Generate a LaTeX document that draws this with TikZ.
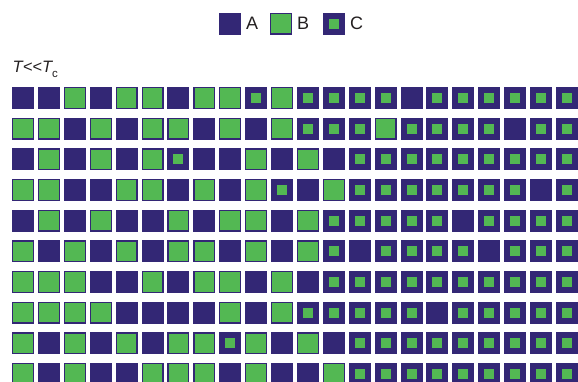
\documentclass[tikz,border=0pt]{standalone}
\usepackage{fontspec}
\setmainfont{Liberation Sans}
\newfontfamily\plainsans{Liberation Sans}
\definecolor{dark}{RGB}{51,39,117}
\definecolor{grn}{RGB}{83,184,83}
\definecolor{txt}{RGB}{35,31,32}
\tikzset{
  cellA/.style={fill=dark, draw=none, minimum size=22pt, inner sep=0pt, outer sep=0pt},
  cellB/.style={fill=grn, draw=dark, line width=1.2pt, minimum size=20.8pt, inner sep=0pt, outer sep=0pt},
  cellC/.style={cellA, path picture={\fill[grn] ([xshift=-5pt,yshift=-5pt]path picture bounding box.center) rectangle ([xshift=5pt,yshift=5pt]path picture bounding box.center);}},
  legtext/.style={anchor=west, inner sep=0pt, text=txt, font=\fontsize{18}{20}\selectfont}
}
\begin{document}
\begin{tikzpicture}[x=1pt,y=-1pt]
\useasboundingbox (0,0) rectangle (578,381);
\clip (0,0) rectangle (578,381);
% legend
\node[cellA] (legA) at (230,23.5) {};
\node[legtext] (legAt) at (246,23.5) {A};
\node[cellB] (legB) at (281,23.5) {};
\node[legtext] (legBt) at (297,23.5) {B};
\node[cellC] (legC) at (334,23.5) {};
\node[legtext] (legCt) at (350,23.5) {C};
% temperature label
\node[anchor=base west, inner sep=0pt, text=txt, font=\plainsans\fontsize{16.5}{18}\selectfont] (tlabel) at (12.5,72)
  {\itshape T<<T\raisebox{-5.5pt}{\upshape\fontsize{11.5}{12}\selectfont c}};
% grid
\foreach \row [count=\r from 0] in {
  {A,A,B,A,B,B,A,B,B,C,B,C,C,C,C,A,C,C,C,C,C,C},
  {B,B,A,B,A,B,B,A,B,A,B,C,C,C,B,C,C,C,C,A,C,C},
  {A,B,A,B,A,B,C,A,A,B,A,B,A,C,C,C,C,C,C,C,C,C},
  {B,B,A,A,B,B,A,B,A,B,C,A,B,C,C,C,C,C,C,C,A,C},
  {A,B,A,B,A,A,B,A,B,B,A,B,C,C,C,C,C,A,C,C,C,C},
  {B,A,B,A,B,A,B,B,A,B,A,B,C,A,C,C,C,C,A,C,C,C},
  {B,B,B,A,A,B,A,B,B,A,B,A,C,C,C,C,C,C,C,C,C,C},
  {B,B,B,B,A,A,A,A,B,A,B,C,C,C,C,C,A,C,C,C,C,C},
  {B,A,B,A,B,A,B,B,C,B,A,B,A,C,C,C,C,C,C,C,C,C},
  {B,A,B,A,A,B,B,B,A,B,A,A,B,C,C,C,C,C,C,C,C,C}}
{
  \foreach \t [count=\c from 0] in \row {
    \node[cell\t] (g-\r-\c) at ({23+25.9*\c},{98+30.67*\r}) {};
  }
}
\end{tikzpicture}
\end{document}
